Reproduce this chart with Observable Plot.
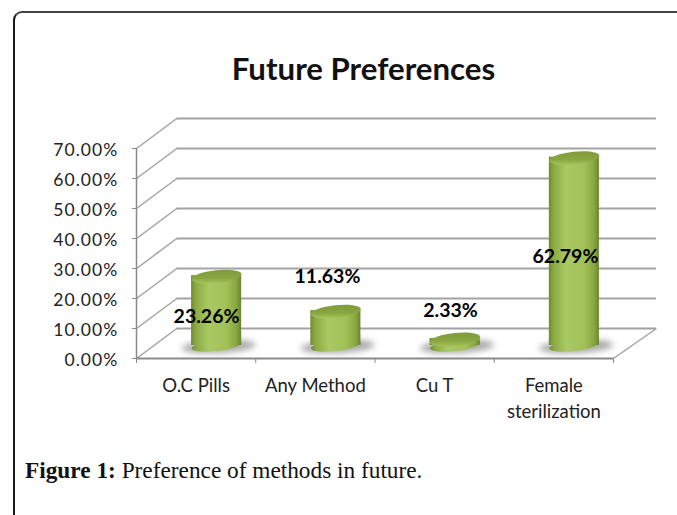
<!DOCTYPE html>
<html>
<head>
<meta charset="utf-8">
<script src="https://cdn.jsdelivr.net/npm/d3@7"></script>
<script src="https://cdn.jsdelivr.net/npm/@observablehq/plot@0.6"></script>
<style>
  html, body { margin: 0; padding: 0; background: #fff; overflow: hidden; }
  #page { position: relative; width: 677px; height: 515px; overflow: hidden; }
  #card { position: absolute; left: 13px; top: 11px; width: 700px; height: 600px; box-sizing: border-box;
          border-left: 2px solid #1a1a1a; border-top: 2px solid #444; border-top-left-radius: 9px; }
  #title { position: absolute; left: 0; width: 727px; top: 49px; text-align: center;
           font: bold 31.2px/38px Lato, sans-serif; color: #111; }
  #chart { position: absolute; left: 0; top: 100px; }
  #chart g[aria-label="y-axis tick label"] text { letter-spacing: 1.1px; }
  #caption { position: absolute; left: 25px; top: 456px; font: 23.3px/28px "Liberation Serif", serif; color: #111; white-space: nowrap; }
  #caption b { font-weight: bold; }
</style>
</head>
<body>
<div id="page">
  <div id="card"></div>
  <div id="title">Future Preferences</div>
  <div id="chart"></div>
  <div id="caption"><b>Figure 1:</b> Preference of methods in future.</div>
</div>
<script>
const categories = ["O.C Pills", "Any Method", "Cu T", "Female\nsterilization"];
const values = [23.26, 11.63, 2.33, 62.79];
const yTicks = [0, 10, 20, 30, 40, 50, 60, 70];
const xEdges = [0, 1, 2, 3, 4];
const xCenters = [0.5, 1.5, 2.5, 3.5];

const labelDx = [10.4, 12.1, 15.9, 11.6];
const labelDy = [27.8, -47.1, -41, 86.4];
const depthX = 0.338, depthXRight = 0.36, depthY = 10;
const halfBar = 0.21;
const baseDx = 20.5, baseDy = -13;

const rows = categories.map((c, i) => ({c, x: i + 0.5, v: values[i]}));

function ellipse(rx, ry, deg) {
  const a = deg * Math.PI / 180, cos = Math.cos(a), sin = Math.sin(a), k = 0.5523;
  const P = (x, y) => [x * cos - y * sin, x * sin + y * cos];
  return {draw(ctx) {
    ctx.moveTo(...P(rx, 0));
    ctx.bezierCurveTo(...P(rx, k * ry), ...P(k * rx, ry), ...P(0, ry));
    ctx.bezierCurveTo(...P(-k * rx, ry), ...P(-rx, k * ry), ...P(-rx, 0));
    ctx.bezierCurveTo(...P(-rx, -k * ry), ...P(-k * rx, -ry), ...P(0, -ry));
    ctx.bezierCurveTo(...P(k * rx, -ry), ...P(rx, -k * ry), ...P(rx, 0));
    ctx.closePath();
  }};
}

function defs() {
  const d = d3.create("svg:defs");
  const body = d.append("linearGradient").attr("id", "cylBody");
  [[0, "#6f8a30"], [0.1, "#8dab44"], [0.35, "#a9c963"], [0.7, "#a2c158"], [0.9, "#8aa842"], [1, "#6a8430"]]
    .forEach(([o, c]) => body.append("stop").attr("offset", o).attr("stop-color", c));
  const top = d.append("linearGradient").attr("id", "cylTop").attr("x1", 0).attr("x2", 0).attr("y1", 0).attr("y2", 1);
  [[0, "#7f9b3c"], [0.6, "#89a640"], [1, "#a6c55c"]]
    .forEach(([o, c]) => top.append("stop").attr("offset", o).attr("stop-color", c));
  return d.node();
}

const gridColor = "#a3a3a3", axisColor = "#8a8a8a";

const plot = Plot.plot({
  width: 677, height: 330,
  marginLeft: 136, marginRight: 64, marginTop: 48, marginBottom: 72,
  style: {background: "transparent", fontFamily: "Lato, sans-serif", overflow: "visible"},
  x: {type: "linear", domain: [0, 4], label: null},
  y: {domain: [0, 70], label: null},
  marks: [
    defs,
    // back wall and side wall
    Plot.ruleY(yTicks, {y: d => d + depthY, x1: depthX, x2: 4 + depthXRight, stroke: gridColor, strokeWidth: 1.8}),
    Plot.link(yTicks, {x1: 0, y1: d => d, x2: depthX, y2: d => d + depthY, stroke: gridColor, strokeWidth: 1.5}),
    Plot.link([0], {x1: 4, y1: 0, x2: 4 + depthXRight, y2: depthY, stroke: gridColor, strokeWidth: 1.5}),
    // axes
    Plot.ruleX([0], {y1: 0, y2: 70, stroke: axisColor, strokeWidth: 1.5}),
    Plot.ruleY([0], {x1: 0, x2: 4, stroke: axisColor, strokeWidth: 1.8}),
    Plot.axisY({ticks: yTicks, tickSize: 4, tickFormat: () => "", stroke: axisColor, label: null}),
    Plot.axisY({ticks: yTicks, tickSize: 0, tickPadding: 18, tickFormat: d => d.toFixed(2) + "%",
                fill: "#222", fontSize: 17.5, dy: 1.5, label: null}),
    Plot.axisX({ticks: xEdges, tickSize: 5, tickFormat: () => "", stroke: axisColor, label: null}),
    Plot.axisX({ticks: xCenters, tickSize: 0, tickPadding: 15, tickFormat: d => categories[d - 0.5],
                fill: "#222", fontSize: 18.5, lineHeight: 1.4, label: null, lineAnchor: "top"}),
    // shadows
    Plot.dot(rows, {x: "x", y: 0, symbol: ellipse(37, 6.5, -3), r: 1, fill: "#8c8c8c", stroke: null,
                    dx: baseDx + 2, dy: baseDy + 1, imageFilter: "blur(3px)", fillOpacity: 0.75}),
    // cylinders
    Plot.dot(rows, {x: "x", y: 0, symbol: ellipse(25, 5.5, -7), r: 1, fill: "url(#cylBody)", stroke: null, dx: baseDx, dy: baseDy}),
    Plot.rectY(rows, {x1: d => d.x - halfBar, x2: d => d.x + halfBar, y1: 0, y2: "v", fill: "url(#cylBody)",
                      dx: baseDx, dy: baseDy}),
    Plot.dot(rows, {x: "x", y: "v", symbol: ellipse(25.2, 6.5, -6), r: 1, fill: "url(#cylTop)", stroke: null, dx: baseDx, dy: baseDy + 1}),
    // data labels
    ...values.map((v, i) => Plot.text([v], {
      x: xCenters[i], y: d => d, text: d => d.toFixed(2) + "%",
      dx: labelDx[i], dy: labelDy[i], fontSize: 19.5, fontWeight: "bold", fill: "#000"
    }))
  ]
});
document.getElementById("chart").appendChild(plot);
</script>
</body>
</html>
